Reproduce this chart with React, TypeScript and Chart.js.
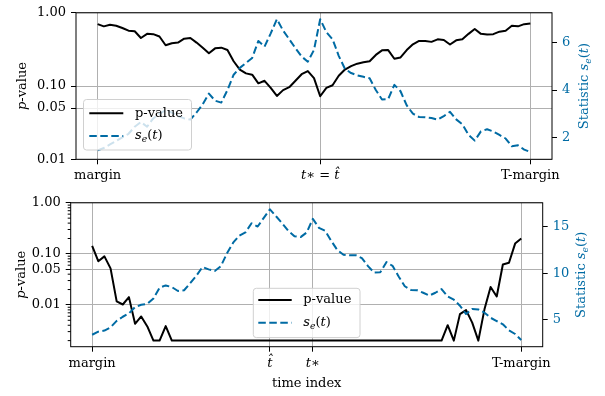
import React, { useEffect, useRef } from 'react';
import { Chart, registerables } from 'chart.js';
Chart.register(...registerables);

const FONT = '"DejaVu Serif", serif';
const BLUE = '#006BA4';
const GRID = '#b0b0b0';

// tick positions / labels
const xTickPosTop = [0, 36, 70];
const xTickLabTop = ['margin', 't∗ = t̂', 'T-margin'];
const xTickPosBot = [0, 29, 36, 70];
const xTickLabBot = ['margin', 't̂', 't∗', 'T-margin'];
const pTicks = [0.01, 0.05, 0.1, 1];
const sTicksTop = [2, 4, 6];
const sTicksBot = [5, 10, 15];
const pMinorBot = [0.002, 0.003, 0.004, 0.005, 0.006, 0.007, 0.008, 0.009, 0.02, 0.03, 0.04, 0.06, 0.07, 0.08, 0.09, 0.2, 0.3, 0.4, 0.5, 0.6, 0.7, 0.8, 0.9];

// top panel series
const pTop = [0.70, 0.653, 0.685, 0.665, 0.62, 0.57, 0.56, 0.453, 0.516, 0.511,
  0.475, 0.361, 0.384, 0.392, 0.443, 0.453, 0.392, 0.334, 0.28, 0.327,
  0.334, 0.31, 0.218, 0.168, 0.149, 0.143, 0.109, 0.118, 0.0944, 0.0733,
  0.088, 0.0964, 0.118, 0.145, 0.16, 0.128, 0.0726, 0.0944, 0.1025, 0.138,
  0.168, 0.187, 0.202, 0.211, 0.218, 0.266, 0.307, 0.31, 0.236, 0.246,
  0.31, 0.372, 0.413, 0.413, 0.401, 0.434, 0.426, 0.369, 0.421, 0.434,
  0.516, 0.601, 0.516, 0.505, 0.511, 0.553, 0.57, 0.665, 0.653, 0.70, 0.715];
const sTop = [1.45, 1.55, 1.7, 1.85, 2.0, 2.15, 2.45, 2.65, 2.45, 2.8,
  3.0, 3.15, 3.05, 2.9, 2.8, 2.75, 3.05, 3.4, 3.85, 3.55,
  3.47, 4.0, 4.65, 4.94, 5.15, 5.36, 6.08, 5.84, 6.4, 7.0,
  6.52, 6.15, 5.77, 5.42, 5.2, 5.7, 7.0, 6.45, 6.15, 5.45,
  4.9, 4.72, 4.62, 4.56, 4.5, 4.0, 3.6, 3.62, 4.22, 3.95,
  3.35, 3.0, 2.86, 2.85, 2.82, 2.75, 2.9, 3.08, 2.76, 2.55,
  2.1, 1.86, 2.25, 2.34, 2.25, 2.1, 1.95, 1.62, 1.66, 1.48, 1.38];

// bottom panel series
const pBot = [0.144, 0.0718, 0.0893, 0.052, 0.0117, 0.0102, 0.0142, 0.00427, 0.00594, 0.00379,
  0.002, 0.002, 0.00385, 0.002, 0.002, 0.002, 0.002, 0.002, 0.002, 0.002,
  0.002, 0.002, 0.002, 0.002, 0.002, 0.002, 0.002, 0.002, 0.002, 0.002,
  0.002, 0.002, 0.002, 0.002, 0.002, 0.002, 0.002, 0.002, 0.002, 0.002,
  0.002, 0.002, 0.002, 0.002, 0.002, 0.002, 0.002, 0.002, 0.002, 0.002,
  0.002, 0.002, 0.002, 0.002, 0.002, 0.002, 0.002, 0.002, 0.004, 0.002,
  0.0066, 0.0079, 0.0045, 0.002, 0.0082, 0.0225, 0.0146, 0.062, 0.0668, 0.159, 0.2];
const sBot = [3.37, 3.7, 3.82, 4.17, 4.86, 5.31, 5.67, 6.35, 6.6, 6.7,
  7.29, 8.44, 8.69, 8.51, 8.09, 8.17, 8.93, 9.73, 10.67, 10.42,
  10.25, 10.77, 12.16, 13.3, 14.06, 14.41, 15.39, 15.04, 15.98, 16.9,
  16.15, 15.39, 14.58, 14.0, 13.9, 14.4, 15.87, 14.9, 14.58, 13.5,
  12.5, 12.0, 11.95, 11.95, 11.64, 10.77, 10.07, 10.1, 11.2, 10.8,
  9.65, 8.6, 8.2, 8.17, 7.9, 7.6, 7.9, 8.3, 7.5, 7.15,
  6.5, 5.6, 6.15, 6.1, 5.75, 5.2, 4.85, 4.5, 3.85, 3.45, 2.8];

type Part = { t: string; it?: boolean; sub?: boolean };
const P_LABEL: Part[] = [{ t: 'p', it: true }, { t: '-value' }];
const S_LABEL: Part[] = [{ t: 's', it: true }, { t: 'e', it: true, sub: true }, { t: '(' }, { t: 't', it: true }, { t: ')' }];
const STAT_LABEL: Part[] = [{ t: 'Statistic ' }, ...S_LABEL];

function drawRich(ctx: CanvasRenderingContext2D, parts: Part[], x: number, y: number, size: number, color: string, rot: number, align: 'center' | 'left') {
  ctx.save();
  ctx.translate(x, y);
  ctx.rotate(rot);
  const fnt = (p: Part) => `${p.it ? 'italic ' : ''}${p.sub ? size * 0.72 : size}px ${FONT}`;
  let total = 0;
  const widths = parts.map((p) => { ctx.font = fnt(p); const w = ctx.measureText(p.t).width; total += w; return w; });
  let cx = align === 'center' ? -total / 2 : 0;
  ctx.fillStyle = color;
  ctx.textBaseline = 'middle';
  ctx.textAlign = 'left';
  parts.forEach((p, i) => { ctx.font = fnt(p); ctx.fillText(p.t, cx, p.sub ? size * 0.28 : 0); cx += widths[i]; });
  ctx.restore();
}

type Opts = {
  p: number[]; s: number[]; pMin: number; sMin: number; sMax: number; sTicks: number[];
  xPos: number[]; xLab: string[]; xTitle: boolean; padTop: number; yLW: number; yRW: number; xH: number;
  leftTitleX: number; rightTitleX: number; minor: number[];
  legend: { x: number; y: number; w: number; h: number; rows: number[]; lx0: number; lx1: number; tx: number };
};

function buildChart(canvas: HTMLCanvasElement, o: Opts) {
  const toPts = (arr: number[]) => arr.map((v, i) => ({ x: i, y: v }));
  const deco = {
    id: 'deco',
    afterDatasetsDraw(chart: any) {
      const { ctx, chartArea: a } = chart;
      ctx.save();
      ctx.strokeStyle = '#000';
      ctx.lineWidth = 1;
      const ys = chart.scales.y;
      ctx.beginPath();
      o.minor.forEach((v) => {
        const py = ys.getPixelForValue(v);
        ctx.moveTo(a.left - 3, py);
        ctx.lineTo(a.left, py);
      });
      ctx.stroke();
      ctx.strokeRect(a.left, a.top, a.right - a.left, a.bottom - a.top);
      ctx.restore();
    },
    afterDraw(chart: any) {
      const { ctx, chartArea: a } = chart;
      const cy = (a.top + a.bottom) / 2;
      drawRich(ctx, P_LABEL, o.leftTitleX, cy, 13, '#000', -Math.PI / 2, 'center');
      drawRich(ctx, STAT_LABEL, o.rightTitleX, cy, 13, BLUE, -Math.PI / 2, 'center');
      const L = o.legend;
      ctx.save();
      ctx.beginPath();
      ctx.roundRect(L.x, L.y, L.w, L.h, 3);
      ctx.fillStyle = 'rgba(255,255,255,0.8)';
      ctx.fill();
      ctx.strokeStyle = '#d0d0d0';
      ctx.lineWidth = 1;
      ctx.stroke();
      ctx.lineWidth = 2;
      ctx.strokeStyle = '#000';
      ctx.beginPath();
      ctx.moveTo(L.lx0, L.rows[0]);
      ctx.lineTo(L.lx1, L.rows[0]);
      ctx.stroke();
      ctx.strokeStyle = BLUE;
      ctx.setLineDash([7.5, 3.5]);
      ctx.beginPath();
      ctx.moveTo(L.lx0, L.rows[1]);
      ctx.lineTo(L.lx1, L.rows[1]);
      ctx.stroke();
      ctx.restore();
      drawRich(ctx, [{ t: 'p-value' }], L.tx, L.rows[0], 13, '#000', 0, 'left');
      drawRich(ctx, S_LABEL, L.tx, L.rows[1], 13, '#000', 0, 'left');
    },
  };
  return new Chart(canvas, {
    type: 'line',
    data: {
      datasets: [
        { label: 's_e(t)', data: toPts(o.s), yAxisID: 'y2', borderColor: BLUE, borderWidth: 2, borderDash: [7.5, 3.5], pointRadius: 0, tension: 0, fill: false, borderJoinStyle: 'round' },
        { label: 'p-value', data: toPts(o.p), yAxisID: 'y', borderColor: '#000', borderWidth: 2, pointRadius: 0, tension: 0, fill: false, borderJoinStyle: 'round' },
      ],
    } as any,
    options: {
      animation: false,
      responsive: false,
      events: [],
      layout: { padding: { top: o.padTop, left: 0, right: 0, bottom: 0 } },
      plugins: { legend: { display: false }, tooltip: { enabled: false } },
      scales: {
        x: {
          type: 'linear', min: -3.5, max: 73.5,
          afterBuildTicks: (s: any) => { s.ticks = o.xPos.map((v) => ({ value: v })); },
          afterFit: (s: any) => { s.height = o.xH; },
          ticks: {
            autoSkip: false, maxRotation: 0, color: '#000', padding: 4,
            callback: (_v: any, i: number) => o.xLab[i],
            font: (c: any) => ({ family: FONT, size: 13, style: c.index !== undefined && o.xLab[c.index] && o.xLab[c.index].startsWith('t') ? 'italic' : 'normal' }),
          },
          grid: { color: GRID, lineWidth: 1, tickColor: '#000', tickLength: 5 },
          border: { display: false },
          title: { display: o.xTitle, text: 'time index', color: '#000', font: { family: FONT, size: 13 }, padding: { top: 0, bottom: 5 } },
        },
        y: {
          type: 'logarithmic', position: 'left', min: o.pMin, max: 1,
          afterBuildTicks: (s: any) => { s.ticks = pTicks.map((v) => ({ value: v })); },
          afterFit: (s: any) => { s.width = o.yLW; },
          ticks: { autoSkip: false, color: '#000', padding: 5, font: { family: FONT, size: 13 }, callback: (v: any) => Number(v).toFixed(2) },
          grid: { color: GRID, lineWidth: 1, tickColor: '#000', tickLength: 5 },
          border: { display: false },
        },
        y2: {
          type: 'linear', position: 'right', min: o.sMin, max: o.sMax,
          afterBuildTicks: (s: any) => { s.ticks = o.sTicks.map((v) => ({ value: v })); },
          afterFit: (s: any) => { s.width = o.yRW; },
          ticks: { autoSkip: false, color: BLUE, padding: 5, font: { family: FONT, size: 13 } },
          grid: { drawOnChartArea: false, tickColor: '#000', tickLength: 5 },
          border: { display: false },
        },
      },
    } as any,
    plugins: [deco],
  });
}

export default function App() {
  const topRef = useRef<HTMLCanvasElement>(null);
  const botRef = useRef<HTMLCanvasElement>(null);
  useEffect(() => {
    const c1 = buildChart(topRef.current!, {
      p: pTop, s: sTop, pMin: 0.01, sMin: 1.07, sMax: 7.27, sTicks: sTicksTop,
      xPos: xTickPosTop, xLab: xTickLabTop, xTitle: false, padTop: 8.3, yLW: 76, yRW: 53, xH: 30.7,
      leftTitleX: 23, rightTitleX: 584.5, minor: [],
      legend: { x: 83.5, y: 99.5, w: 108, h: 50.5, rows: [113.3, 136], lx0: 89.3, lx1: 123.3, tx: 135 },
    });
    const c2 = buildChart(botRef.current!, {
      p: pBot, s: sBot, pMin: 0.00152, sMin: 2.08, sMax: 17.6, sTicks: sTicksBot,
      xPos: xTickPosBot, xLab: xTickLabBot, xTitle: true, padTop: 7.7, yLW: 70.7, yRW: 62.3, xH: 49.3,
      leftTitleX: 22, rightTitleX: 581.5, minor: pMinorBot,
      legend: { x: 253.3, y: 98.3, w: 106.7, h: 49.3, rows: [110, 132.7], lx0: 258.3, lx1: 291.7, tx: 303.3 },
    });
    return () => { c1.destroy(); c2.destroy(); };
  }, []);
  return (
    <div style={{ position: 'absolute', left: 0, top: 0, width: 605, height: 396, background: '#fff' }}>
      <canvas ref={topRef} width={605} height={190} style={{ position: 'absolute', left: 0, top: 0, width: 605, height: 190 }} />
      <canvas ref={botRef} width={605} height={206} style={{ position: 'absolute', left: 0, top: 190, width: 605, height: 206 }} />
    </div>
  );
}
